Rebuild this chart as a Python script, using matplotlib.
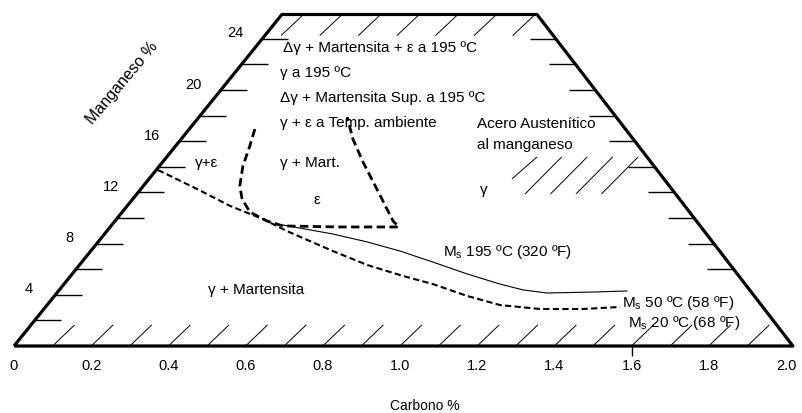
import matplotlib.pyplot as plt
import numpy as np

plt.rcParams['font.family'] = ['Liberation Sans', 'DejaVu Sans']
plt.rcParams['mathtext.default'] = 'regular'

# diagram outline (carbon %, manganese %)
mn_top = 25.9
c_top_left = 0.694
c_top_right = 1.355
c_right = 2.018

# Ms 50 / 20 C boundary (dashed)
ms50_c = [0.373, 0.474, 0.560, 0.645, 0.707, 0.826, 0.915, 1.008, 1.085, 1.174, 1.259, 1.363, 1.474, 1.570]
ms50_mn = [13.75, 12.27, 10.94, 9.92, 8.98, 7.42, 6.33, 5.47, 4.84, 3.91, 3.20, 2.89, 2.89, 3.05]

# Ms 195 C line (solid)
ms195_c = [0.697, 0.826, 0.915, 1.000, 1.085, 1.174, 1.259, 1.319, 1.381, 1.505, 1.588]
ms195_mn = [9.45, 8.75, 8.13, 7.42, 6.56, 5.63, 4.84, 4.38, 4.14, 4.22, 4.30]

# epsilon region boundary
eps_c = [0.624, 0.611, 0.593, 0.585, 0.591, 0.611, 0.655, 0.697, 0.845, 0.997,
         0.982, 0.940, 0.904, 0.878, 0.863]
eps_mn = [16.95, 15.63, 14.06, 12.50, 11.48, 10.47, 9.77, 9.38, 9.30, 9.30,
          9.77, 12.27, 14.38, 16.17, 17.89]

c_ticks = [0, 0.2, 0.4, 0.6, 0.8, 1.0, 1.2, 1.4, 1.6, 1.8, 2.0]
c_tick_labels = ['0', '0.2', '0.4', '0.6', '0.8', '1.0', '1.2', '1.4', '1.6', '1.8', '2.0']
mn_label_vals = [4, 8, 12, 16, 20, 24]
mn_left_ticks = np.arange(2, 25, 2)
mn_right_ticks = np.arange(6, 25, 2)


def left_edge(mn):
    return np.asarray(mn) * c_top_left / mn_top


def right_edge(mn):
    return c_right - np.asarray(mn) * (c_right - c_top_right) / mn_top


fig = plt.figure(figsize=(8.03, 4.14), dpi=100)
ax = fig.add_axes([14 / 803, (414 - 347) / 414, 787.4 / 803, 332.8 / 414])
ax.set_xlim(0, 2.04)
ax.set_ylim(0, 26)
for s in ax.spines.values():
    s.set_visible(False)

k = dict(color='black', clip_on=False, solid_capstyle='butt')

# outline
ax.plot([0, c_top_left, c_top_right, c_right, 0], [0, mn_top, mn_top, 0, 0], lw=2.3, **k)

# side ticks
tl = 0.068
for m in mn_left_ticks:
    x0 = float(left_edge(m))
    ax.plot([x0, x0 + tl], [m, m], lw=1.0, **k)
for m in mn_right_ticks:
    x0 = float(right_edge(m))
    ax.plot([x0 - tl, x0], [m, m], lw=1.0, **k)
ax.plot([1.6, 1.6], [0, -0.8], lw=1.0, **k)

# hatching along base and top
for c in np.arange(0.1, 1.95, 0.1):
    ax.plot([c, c + 0.057], [0, 1.65], lw=0.7, **k)
for c in np.arange(0.75, 1.4, 0.1):
    ax.plot([c, c - 0.058], [mn_top, mn_top - 1.65], lw=0.7, **k)
# hatching in austenitic region
ax.plot([1.290, 1.355], [13.05, 14.77], lw=0.7, **k)
for c in np.arange(1.324, 1.55, 0.066):
    ax.plot([c, c + 0.095], [11.88, 14.77], lw=0.7, **k)

# curves
ax.plot(ms50_c, ms50_mn, lw=1.5, dashes=(3, 1.6), color='black')
ax.plot(ms195_c, ms195_mn, lw=0.8, color='black')
ax.plot(eps_c, eps_mn, lw=2.0, dashes=(3, 1.6), color='black')

# axis labels
ax.set_xticks(c_ticks)
ax.set_xticklabels(c_tick_labels, fontsize=10.5)
ax.tick_params(axis='x', length=0, pad=9)
ax.set_yticks([])
for m in mn_label_vals:
    ax.text(float(left_edge(m)) - 0.07, m + 0.5, str(m), fontsize=10.5, ha='center', va='center')
ax.text(1.065, -4.6, 'Carbono %', fontsize=10, ha='center', va='center')
ax.text(0.280, 20.6, 'Manganeso %', fontsize=11.5, ha='center', va='center', rotation=50,
        rotation_mode='anchor')

fs = 11
ax.text(0.697, 23.36, 'Δγ + Martensita + ε a 195 ºC', fontsize=fs, va='center')
ax.text(0.689, 21.41, 'γ a 195 ºC', fontsize=fs, va='center')
ax.text(0.689, 19.45, 'Δγ + Martensita Sup. a 195 ºC', fontsize=fs, va='center')
ax.text(0.689, 17.5, 'γ + ε a Temp. ambiente', fontsize=fs, va='center')
ax.text(0.689, 14.38, 'γ + Mart.', fontsize=fs, va='center')
ax.text(0.469, 14.38, 'γ+ε', fontsize=fs, va='center')
ax.text(0.785, 11.48, 'ε', fontsize=fs, ha='center', va='center')
ax.text(1.199, 17.42, 'Acero Austenítico', fontsize=fs, va='center')
ax.text(1.199, 15.78, 'al manganeso', fontsize=fs, va='center')
ax.text(1.218, 12.27, 'γ', fontsize=fs, ha='center', va='center')
ax.text(1.111, 7.42, 'M$_s$ 195 ºC (320 ºF)', fontsize=fs, va='center')
ax.text(1.575, 3.44, 'M$_s$ 50 ºC (58 ºF)', fontsize=fs, va='center')
ax.text(1.591, 1.88, 'M$_s$ 20 ºC (68 ºF)', fontsize=fs, va='center')
ax.text(0.503, 4.45, 'γ + Martensita', fontsize=fs, va='center')

fig.savefig('out.png', dpi=100)
